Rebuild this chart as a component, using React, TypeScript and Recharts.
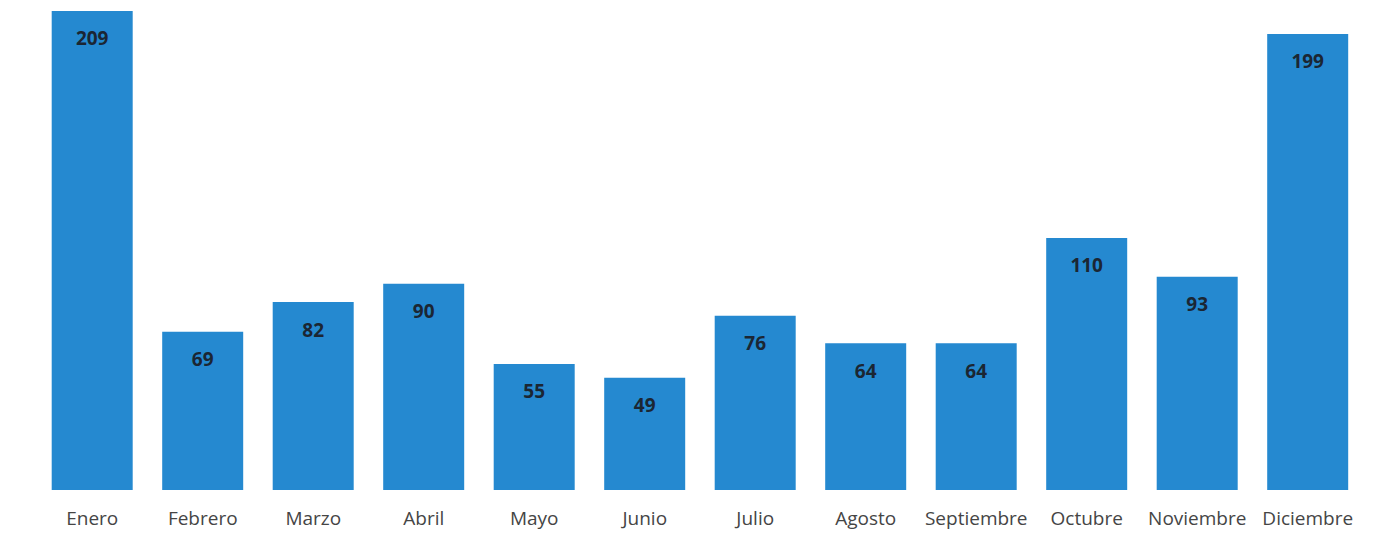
import { BarChart, Bar, XAxis, YAxis, LabelList } from "recharts";

const MONTHS = [
  "Enero",
  "Febrero",
  "Marzo",
  "Abril",
  "Mayo",
  "Junio",
  "Julio",
  "Agosto",
  "Septiembre",
  "Octubre",
  "Noviembre",
  "Diciembre",
];

const VALUES = [209, 69, 82, 90, 55, 49, 76, 64, 64, 110, 93, 199];

const data = MONTHS.map((month, i) => ({ month, value: VALUES[i] }));

export default function App() {
  return (
    <div style={{ position: "absolute", left: 0, top: 0, background: "#fff" }}>
      <BarChart
        width={1393}
        height={538}
        data={data}
        margin={{ top: 11, right: 30, left: 37, bottom: 0 }}
        barCategoryGap="13.3%"
      >
        <XAxis
          dataKey="month"
          axisLine={false}
          tickLine={false}
          height={48}
          interval={0}
          tick={{ fontSize: 19, fill: "#454545", fontFamily: "Open Sans" }}
          tickMargin={16}
        />
        <YAxis hide domain={[0, 209]} />
        <Bar dataKey="value" fill="#2589d0" isAnimationActive={false}>
          <LabelList
            dataKey="value"
            position="insideTop"
            offset={21}
            style={{ fontSize: 19, fontWeight: 700, fill: "#1b2633", fontFamily: "Open Sans" }}
          />
        </Bar>
      </BarChart>
    </div>
  );
}
